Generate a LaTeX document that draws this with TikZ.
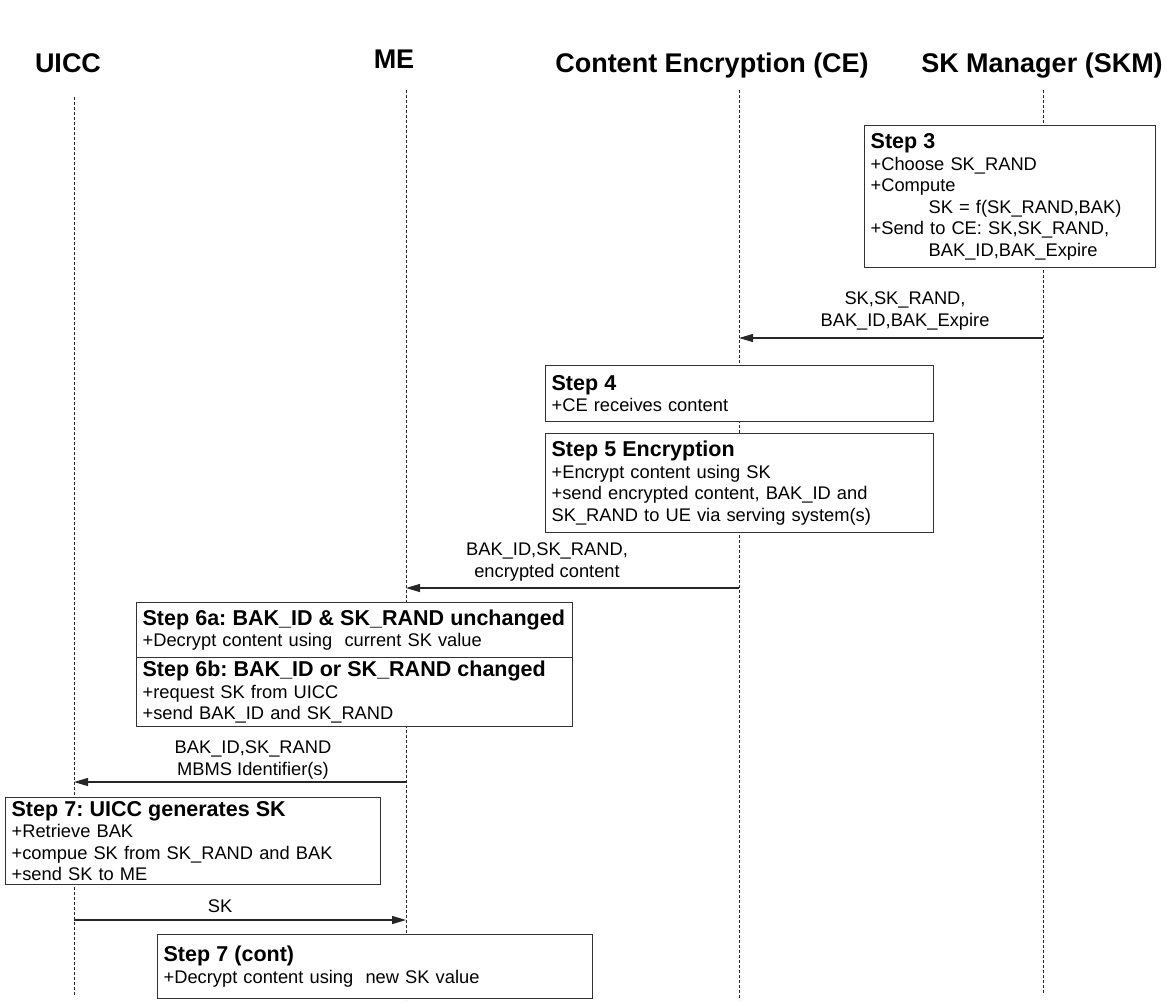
\documentclass[tikz,border=0pt]{standalone}
\usepackage{fontspec}
\setmainfont{Liberation Sans}
\usetikzlibrary{arrows.meta}
\frenchspacing

\tikzset{
  lifeline/.style={draw=black!85, line width=0.9pt, dash pattern=on 3pt off 2pt},
  actor/.style={font=\fontsize{27}{30}\selectfont\bfseries, anchor=base, inner sep=0pt},
  stepbox/.style={draw=black!80, fill=white, line width=1.3pt, anchor=north west,
    inner xsep=6pt, inner ysep=0pt, align=left, font=\fontsize{18.3}{21.5}\selectfont},
  msg/.style={draw=black!85, line width=1.1pt, -{Triangle[length=14pt,width=8pt]}},
  msglabel/.style={align=center, inner sep=0pt, font=\fontsize{18.3}{21.5}\selectfont},
}
% bold step heading, kept on one line
\newcommand\stephead[1]{\mbox{\fontsize{21.5}{21.5}\selectfont\bfseries #1}}

\begin{document}
\begin{tikzpicture}[x=1pt, y=-1pt]
  \useasboundingbox (0,0) rectangle (1169,1002);

  % actors
  \node[actor] (uicc) at (68,72)   {UICC};
  \node[actor] (me)   at (394,68)  {ME};
  \node[actor] (ce)   at (712,72)  {Content Encryption (CE)};
  \node[actor] (skm)  at (1042,72) {SK Manager (SKM)};

  % lifelines
  \coordinate (uicc-top) at (74,97);   \coordinate (uicc-bot) at (74,995);
  \coordinate (me-top)   at (406,90);  \coordinate (me-bot)   at (406,1000);
  \coordinate (ce-top)   at (739,90);  \coordinate (ce-bot)   at (739,1000);
  \coordinate (skm-top)  at (1043,90); \coordinate (skm-bot)  at (1043,995);
  \draw[lifeline] (uicc-top) -- (uicc-bot);
  \draw[lifeline] (me-top) -- (me-bot);
  \draw[lifeline] (ce-top) -- (ce-bot);
  \draw[lifeline] (skm-top) -- (skm-bot);

  % Step 3 at the SK manager
  \node[stepbox, text width=279pt, minimum height=142pt] (step3) at (864,125) {%
    \stephead{Step 3}\\
    +Choose SK\_RAND\\
    +Compute\\
    \hspace*{58pt}SK = f(SK\_RAND,BAK)\\
    +Send to CE: SK,SK\_RAND,\\
    \hspace*{58pt}BAK\_ID,BAK\_Expire};

  % SKM -> CE
  \coordinate (m1-from) at (1043,338);
  \coordinate (m1-to)   at (739,338);
  \draw[msg] (m1-from) -- (m1-to);
  \node[msglabel] (m1-label) at (905,311) {SK,SK\_RAND,\\BAK\_ID,BAK\_Expire};

  % Steps 4 and 5 at the content encryption
  \node[stepbox, text width=376pt, minimum height=56pt] (step4) at (545,365) {%
    \stephead{Step 4}\\
    +CE receives content};
  \node[stepbox, text width=376pt, minimum height=99pt] (step5) at (545,433) {%
    \stephead{Step 5 Encryption}\\
    +Encrypt content using SK\\
    +send encrypted content, BAK\_ID and\\
    SK\_RAND to UE via serving system(s)};

  % CE -> ME
  \coordinate (m2-from) at (739,588);
  \coordinate (m2-to)   at (406,588);
  \draw[msg] (m2-from) -- (m2-to);
  \node[msglabel] (m2-label) at (547,562) {BAK\_ID,SK\_RAND,\\encrypted content};

  % Step 6 at the ME
  \node[stepbox, text width=424pt, minimum height=55pt] (step6a) at (136,602) {%
    \stephead{Step 6a: BAK\_ID \& SK\_RAND unchanged}\\
    +Decrypt content using~ current SK value};
  \node[stepbox, text width=424pt, minimum height=69pt] (step6b) at (136,657) {%
    \stephead{Step 6b: BAK\_ID or SK\_RAND changed}\\
    +request SK from UICC\\
    +send BAK\_ID and SK\_RAND};

  % ME -> UICC
  \coordinate (m3-from) at (406,782);
  \coordinate (m3-to)   at (74,782);
  \draw[msg] (m3-from) -- (m3-to);
  \node[msglabel] (m3-label) at (253,760) {BAK\_ID,SK\_RAND\\MBMS Identifier(s)};

  % Step 7 at the UICC
  \node[stepbox, text width=363pt, minimum height=87pt] (step7) at (5,797) {%
    \stephead{Step 7: UICC generates SK}\\
    +Retrieve BAK\\
    +compue SK from SK\_RAND and BAK\\
    +send SK to ME};

  % UICC -> ME
  \coordinate (m4-from) at (74,920);
  \coordinate (m4-to)   at (406,920);
  \draw[msg] (m4-from) -- (m4-to);
  \node[msglabel] (m4-label) at (220,906) {SK};

  % Step 7 continued at the ME
  \node[stepbox, text width=423pt, minimum height=64pt] (step7c) at (157,934) {%
    \stephead{Step 7 (cont)}\\
    +Decrypt content using~ new SK value};
\end{tikzpicture}
\end{document}
